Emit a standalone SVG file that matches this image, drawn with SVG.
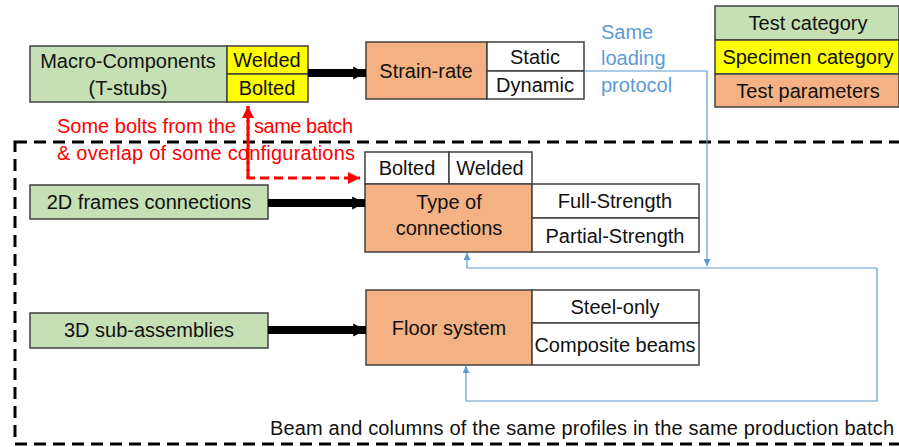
<svg xmlns="http://www.w3.org/2000/svg" width="899" height="447" viewBox="0 0 899 447">
<style>
text{font-family:"Liberation Sans",Arial,sans-serif;font-size:20px;fill:#111;text-anchor:middle;dominant-baseline:central}
.g{fill:#C5E0B4;stroke:#404040;stroke-width:1.5}
.y{fill:#FFFF00;stroke:#404040;stroke-width:1.5}
.o{fill:#F4B183;stroke:#404040;stroke-width:1.5}
.w{fill:#FFFFFF;stroke:#404040;stroke-width:1.5}
.blk{stroke:#000;stroke-width:8;fill:none;marker-end:url(#hb)}
.blue{stroke:#5B9BD5;stroke-width:1.2;fill:none;marker-end:url(#hblue)}
.bluel{stroke:#5B9BD5;stroke-width:1.2;fill:none}
.red{stroke:#FF0000;stroke-width:3;fill:none;stroke-dasharray:9,5}
.rt{fill:#FF0000;text-anchor:start}
.bt{fill:#5B9BD5;text-anchor:start}
</style>
<defs>
<marker id="hb" viewBox="0 0 10 10" refX="10" refY="5" markerWidth="1.6" markerHeight="2.4" orient="auto" markerUnits="strokeWidth"><path d="M0,0 L10,5 L0,10 z" fill="#000"/></marker>
<marker id="hblue" viewBox="0 0 10 10" refX="10" refY="5" markerWidth="7" markerHeight="7" orient="auto" markerUnits="userSpaceOnUse"><path d="M0,0 L10,5 L0,10 z" fill="#5B9BD5"/></marker>
<marker id="hred" viewBox="0 0 10 10" refX="10" refY="5" markerWidth="4" markerHeight="4" orient="auto" markerUnits="strokeWidth"><path d="M0,0 L10,5 L0,10 z" fill="#FF0000"/></marker>
</defs>

<rect x="15" y="142" width="900" height="302" fill="none" stroke="#000" stroke-width="3" stroke-dasharray="12,7"/>

<g id="macro">
<rect class="g" x="30" y="46" width="197" height="56"/>
<text x="128" y="61">Macro-Components</text>
<text x="128" y="88">(T-stubs)</text>
<rect class="y" x="227" y="46" width="81" height="28"/>
<rect class="y" x="227" y="74" width="81" height="28"/>
<text x="267" y="60">Welded</text>
<text x="267" y="88">Bolted</text>
</g>

<g id="strain">
<rect class="o" x="366" y="42" width="121" height="57"/>
<text x="426" y="71">Strain-rate</text>
<rect class="w" x="487" y="42" width="97" height="29"/>
<rect class="w" x="487" y="71" width="97" height="28"/>
<text x="535" y="57">Static</text>
<text x="535" y="85">Dynamic</text>
</g>

<g id="legend">
<rect class="g" x="715" y="6" width="184" height="34"/>
<rect class="y" x="715" y="40" width="184" height="34"/>
<rect class="o" x="715" y="74" width="184" height="33"/>
<text x="808" y="23">Test category</text>
<text x="808" y="57">Specimen category</text>
<text x="808" y="91">Test parameters</text>
</g>

<g id="frames2d">
<rect class="g" x="30" y="185" width="238" height="34"/>
<text x="149" y="202">2D frames connections</text>
</g>

<g id="typeconn">
<rect class="w" x="365" y="152" width="84" height="32"/>
<rect class="w" x="449" y="152" width="83" height="32"/>
<text x="407" y="168">Bolted</text>
<text x="490" y="168">Welded</text>
<rect class="o" x="365" y="184" width="167" height="68"/>
<text x="449" y="202">Type of</text>
<text x="449" y="228">connections</text>
<rect class="w" x="532" y="184" width="167" height="34"/>
<rect class="w" x="532" y="218" width="167" height="34"/>
<text x="615" y="201">Full-Strength</text>
<text x="615" y="236">Partial-Strength</text>
</g>

<g id="sub3d">
<rect class="g" x="30" y="313" width="238" height="35"/>
<text x="149" y="330">3D sub-assemblies</text>
</g>

<g id="floor">
<rect class="o" x="366" y="290" width="166" height="75"/>
<text x="449" y="328">Floor system</text>
<rect class="w" x="532" y="290" width="167" height="33"/>
<rect class="w" x="532" y="323" width="167" height="42"/>
<text x="615" y="307">Steel-only</text>
<text x="615" y="345">Composite beams</text>
</g>

<g id="connectors">
<path class="blk" d="M308,73 H366"/>
<path class="blk" d="M268,203 H365"/>
<path class="blk" d="M268,330 H366"/>
<path class="blue" d="M584,71 H707 V266"/>
<path class="blue" d="M877,268 H467 V253"/>
<path class="bluel" d="M877,268 V401 H466"/>
<path class="blue" d="M466,401 V366"/>
<path class="red" d="M248,106 V178 H360" marker-end="url(#hred)"/>
<path class="red" d="M248,178 V106" marker-end="url(#hred)"/>
</g>

<text class="rt" x="57" y="126">Some bolts from the</text>
<text class="rt" x="254" y="126" textLength="99">same batch</text>
<text class="rt" x="57" y="153" textLength="298">&amp; overlap of some configurations</text>
<text class="bt" x="601" y="32">Same</text>
<text class="bt" x="601" y="58">loading</text>
<text class="bt" x="601" y="85">protocol</text>
<text x="270" y="428" style="text-anchor:start" textLength="624">Beam and columns of the same profiles in the same production batch</text>
</svg>
